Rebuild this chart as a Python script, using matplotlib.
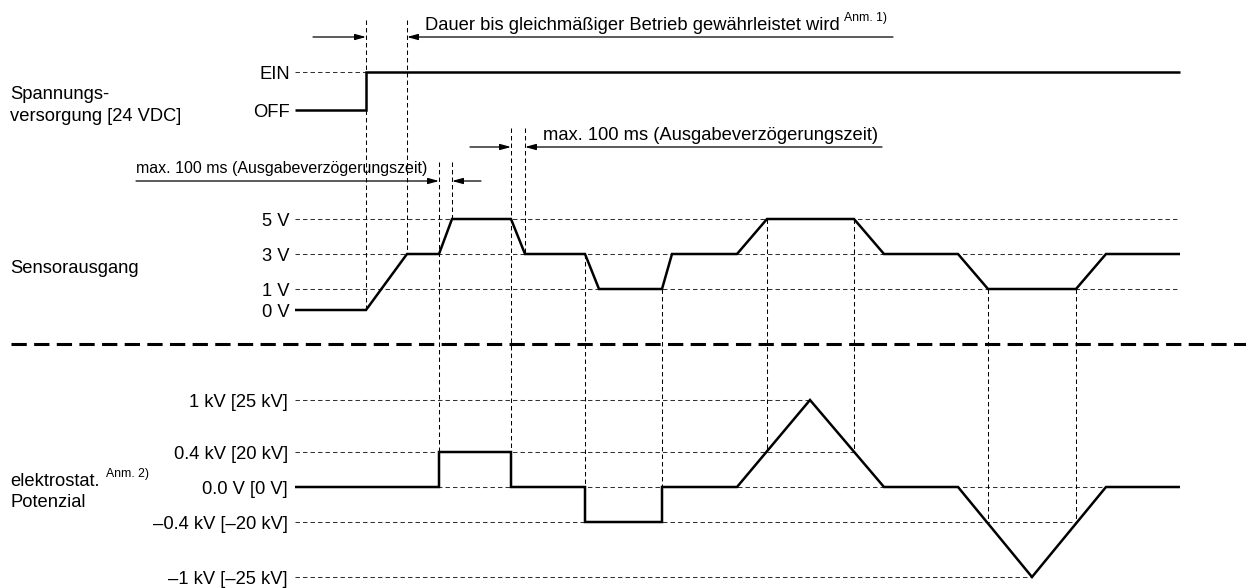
import matplotlib.pyplot as plt
from matplotlib.patches import FancyArrowPatch

plt.rcParams["font.family"] = ["Liberation Sans", "DejaVu Sans"]
plt.rcParams["lines.scale_dashes"] = False

# Zeitachse (gleiche Einheit wie x-Achse)
T_END = 1180

# Spannungsversorgung
POWER_T = [295, 366, 366, 1180]
POWER_LVL = ["OFF", "OFF", "EIN", "EIN"]

# Sensorausgang [V]
SENSOR_T = [295, 366, 407, 439, 452, 511, 525, 585, 599, 662, 672, 737,
            767, 854, 884, 958, 988, 1076, 1106, 1180]
SENSOR_V = [0, 0, 3, 3, 5, 5, 3, 3, 1, 1, 3, 3, 5, 5, 3, 3, 1, 1, 3, 3]

# elektrostatisches Potenzial [kV]
POT_T = [295, 439, 439, 511, 511, 585, 585, 662, 662, 737, 810, 884,
         958, 1032, 1106, 1180]
POT_KV = [0, 0, 0.4, 0.4, 0, 0, -0.4, -0.4, 0, 0, 1, 0, 0, -1, 0, 0]

POWER_TICKS = ["EIN", "OFF"]
SENSOR_TICKS = [5, 3, 1, 0]
SENSOR_TICK_LABELS = ["5 V", "3 V", "1 V", "0 V"]
POT_TICKS = [1, 0.4, 0, -0.4, -1]
POT_TICK_LABELS = ["1 kV [25 kV]", "0.4 kV [20 kV]", "0.0 V [0 V]",
                   "–0.4 kV [–20 kV]", "–1 kV [–25 kV]"]
# wo die gestrichelten Pegellinien enden
POT_REF_END = [810, 854, 1180, 1076, 1032]

# Pegel -> Zeilenposition (schematisch, nicht linear)
POWER_Y = dict(zip(POWER_TICKS, [72, 110]))
SENSOR_Y = dict(zip(SENSOR_TICKS, [219, 254, 289, 310]))
POT_Y = dict(zip(POT_TICKS, [400, 452, 487, 522, 577]))

FS = 13.2
FS_NOTE = 8.8
LW_SIG = 1.8
LW_THIN = 0.75
DASH_THIN = (0, (3.2, 2.2))

fig = plt.figure(figsize=(12.46, 5.88), dpi=100)
ax = fig.add_axes([0, 0, 1, 1])
ax.set_xlim(0, 1246)
ax.set_ylim(588, 0)
ax.axis("off")


def ref_line(y, x1, x0=295, color="#333333"):
    ax.plot([x0, x1], [y, y], color=color, lw=LW_THIN, linestyle=DASH_THIN, zorder=1)


def level_label(y, s, x=290):
    ax.text(x, y + 6.6, s, fontsize=FS, ha="right", va="baseline")


def signal(ts, ys):
    ax.plot(ts, ys, color="black", lw=LW_SIG, solid_joinstyle="miter",
            solid_capstyle="butt", zorder=3)


def arrow(y, tail, head):
    ax.add_patch(FancyArrowPatch((tail, y), (head, y),
                                 arrowstyle="-|>,head_length=6.5,head_width=1.8",
                                 mutation_scale=1, lw=0.9, color="black",
                                 shrinkA=0, shrinkB=0, zorder=4))


# --- Spannungsversorgung ---
level_label(POWER_Y["EIN"], "EIN")
level_label(POWER_Y["OFF"], "OFF")
ref_line(POWER_Y["EIN"], 366)
signal(POWER_T, [POWER_Y[v] for v in POWER_LVL])

# --- Sensorausgang ---
for v, lab in zip(SENSOR_TICKS, SENSOR_TICK_LABELS):
    level_label(SENSOR_Y[v], lab)
    if v != 0:
        ref_line(SENSOR_Y[v], T_END)
signal(SENSOR_T, [SENSOR_Y[v] for v in SENSOR_V])

# --- Potenzial ---
for v, lab, end in zip(POT_TICKS, POT_TICK_LABELS, POT_REF_END):
    level_label(POT_Y[v], lab, x=288)
    ref_line(POT_Y[v], end)
signal(POT_T, [POT_Y[v] for v in POT_KV])

# senkrechte Hilfslinien (x, oben, unten)
GUIDES = [
    (366, 20, SENSOR_Y[0]),
    (407, 20, SENSOR_Y[3]),
    (439, 162, POT_Y[0.4]),
    (452, 162, SENSOR_Y[5]),
    (511, 128, POT_Y[0.4]),
    (525, 128, SENSOR_Y[3]),
    (585, SENSOR_Y[3], POT_Y[-0.4]),
    (662, SENSOR_Y[1], POT_Y[-0.4]),
    (767, SENSOR_Y[5], POT_Y[0.4]),
    (854, SENSOR_Y[5], POT_Y[0.4]),
    (988, SENSOR_Y[1], POT_Y[-0.4]),
    (1076, SENSOR_Y[1], POT_Y[-0.4]),
]
for x, y0, y1 in GUIDES:
    ax.plot([x, x], [y0, y1], color="black", lw=LW_THIN, linestyle=DASH_THIN, zorder=1)

# Zeitmarken mit Pfeilen
arrow(37, 313, 366)
arrow(37, 893, 407)
arrow(147, 470, 511)
arrow(147, 882, 525)
arrow(181, 136, 439)
arrow(181, 481, 452)

ax.text(425, 30, "Dauer bis gleichmäßiger Betrieb gewährleistet wird",
        fontsize=FS, va="baseline")
ax.text(844, 21, "Anm. 1)", fontsize=FS_NOTE, va="baseline")
ax.text(543, 140, "max. 100 ms (Ausgabeverzögerungszeit)", fontsize=FS, va="baseline")
ax.text(136, 173, "max. 100 ms (Ausgabeverzögerungszeit)", fontsize=11.5, va="baseline")

# Zeilenbeschriftungen
ax.text(10, 99, "Spannungs-", fontsize=FS, va="baseline")
ax.text(10, 121, "versorgung [24 VDC]", fontsize=FS, va="baseline")
ax.text(10, 273, "Sensorausgang", fontsize=FS, va="baseline")
ax.text(10, 486, "elektrostat.", fontsize=FS, va="baseline")
ax.text(106, 477, "Anm. 2)", fontsize=FS_NOTE, va="baseline")
ax.text(10, 507, "Potenzial", fontsize=FS, va="baseline")

# Trennlinie zwischen Ausgang und Potenzial
ax.plot([11, 1246], [344, 344], color="black", lw=2.2, linestyle=(0, (11, 5.3)), zorder=2)

fig.savefig("out.png", dpi=100, facecolor="white")
